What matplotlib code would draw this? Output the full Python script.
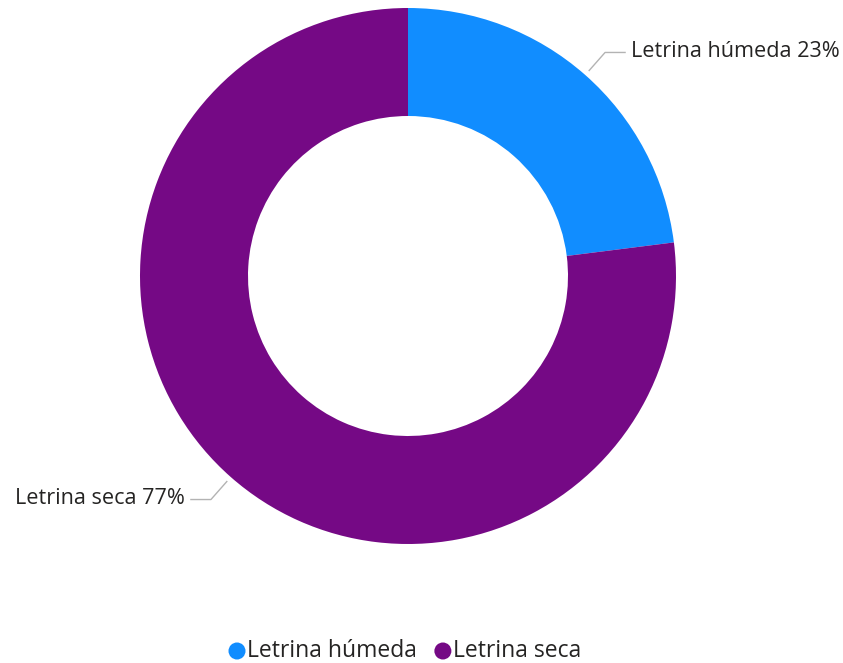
import numpy as np
import matplotlib.pyplot as plt

categories = ["Letrina húmeda", "Letrina seca"]
shares = [23, 77]
colors = ["#118DFF", "#750985"]

W, H = 843, 663
fig = plt.figure(figsize=(W / 100, H / 100), dpi=100)
ax = fig.add_axes([0, 0, 1, 1])

cx, cy = 408, H - 276
r_out, ring = 268, 108

wedges, _ = ax.pie(shares, colors=colors, startangle=90, counterclock=False,
                   radius=r_out, center=(cx, cy),
                   wedgeprops=dict(width=ring, edgecolor="none"))
ax.set_xlim(0, W)
ax.set_ylim(0, H)
ax.set_aspect("equal")
ax.axis("off")

text_color = "#252423"
line_color = "#B3B3B3"
font = ["Open Sans", "DejaVu Sans"]

for w, cat, val in zip(wedges, categories, shares):
    mid = np.deg2rad((w.theta1 + w.theta2) / 2)
    c, s = np.cos(mid), np.sin(mid)
    x0, y0 = cx + (r_out + 6) * c, cy + (r_out + 6) * s
    x1, y1 = cx + (r_out + 30) * c, cy + (r_out + 30) * s
    side = 1 if c >= 0 else -1
    x2 = x1 + side * 20
    ax.plot([x0, x1, x2], [y0, y1, y1], color=line_color, lw=1)
    ax.text(x2 + side * 6, y1 + 1, f"{cat} {val}%", ha="left" if side > 0 else "right",
            va="center", fontsize=15.6, color=text_color, family=font)

# legend row
leg_y = H - 651
x = 237
for cat, col in zip(categories, colors):
    ax.scatter([x], [leg_y], s=150, color=col, edgecolors="none")
    t = ax.text(x + 10, leg_y, cat, ha="left", va="center", fontsize=16.5,
                color=text_color, family=font)
    fig.canvas.draw()
    bb = t.get_window_extent()
    x = bb.x1 + 26

fig.savefig("out.png", dpi=100, facecolor="white")
